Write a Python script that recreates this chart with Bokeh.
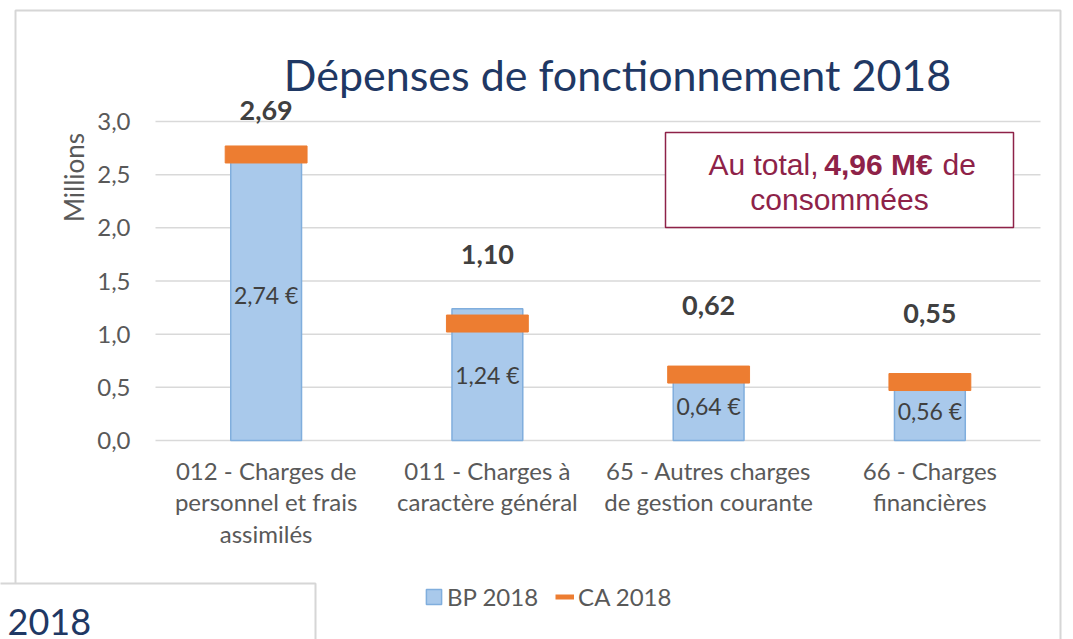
from bokeh.plotting import figure
from bokeh.models import (Range1d, Label, LabelSet, ColumnDataSource,
                          BoxAnnotation, Legend, LegendItem)
from bokeh.core.properties import value
from bokeh.embed import file_html
from bokeh.resources import INLINE
import math

# ---- data ----
categories = ["012 - Charges de\npersonnel et frais\nassimilés",
              "011 - Charges à\ncaractère général",
              "65 - Autres charges\nde gestion courante",
              "66 - Charges\nfinancières"]
bp_2018 = [2.74, 1.24, 0.64, 0.56]
ca_2018 = [2.69, 1.10, 0.62, 0.55]
y_ticks = [0.0, 0.5, 1.0, 1.5, 2.0, 2.5, 3.0]
y_tick_labels = ["0,0", "0,5", "1,0", "1,5", "2,0", "2,5", "3,0"]
series_names = ["BP 2018", "CA 2018"]
title_text = "Dépenses de fonctionnement 2018"
axis_title = "Millions"
total_text = ["Au total,", "4,96 M€", "de", "consommées"]
other_slide_text = "2018"

FONT = "Lato"
GRAY = "#595959"
DARK = "#404040"
NAVY = "#1f3864"
MAROON = "#8e2248"
W, H = 1073, 639

def fr(v):
    return f"{v:.2f}".replace(".", ",")

xs = [i + 0.5 for i in range(len(categories))]

# page pixel -> data helpers (used for layout placement only)
X0, XS = 155.0, 221.25
Y0, YS = 440.0, 106.33
def px(x):
    return (x - X0) / XS
def py(y):
    return (Y0 - y) / YS

p = figure(width=W, height=H, x_range=Range1d(px(0), px(W)), y_range=Range1d(py(H), py(0)),
           output_backend="svg", toolbar_location=None,
           x_axis_location=None, y_axis_location=None,
           min_border=0, min_border_left=0, min_border_right=0,
           min_border_top=0, min_border_bottom=0)
p.outline_line_color = None
p.background_fill_color = "white"
p.border_fill_color = "white"
p.grid.grid_line_color = None
p.grid.visible = False

# outer slide frame
p.add_layout(BoxAnnotation(left=px(15), right=px(1060), top=py(10), bottom=py(H + 60),
                           fill_alpha=0, line_color="#d6d6d6", line_alpha=1, line_width=2,
                           level="underlay"))

# gridlines and value-axis labels
grid_src = ColumnDataSource(dict(y=y_ticks, lbl=y_tick_labels))
p.segment(x0=px(155), x1=px(1040), y0="y", y1="y", source=grid_src,
          line_color="#d9d9d9", line_width=1.5)
p.text(x=px(130), y="y", text="lbl", source=grid_src, text_align="right",
       text_baseline="middle", text_font=value(FONT), text_font_size="24px",
       text_color=GRAY)

src = ColumnDataSource(dict(
    x=xs, cat=categories, bp=bp_2018, ca=ca_2018,
    bp_mid=[v / 2 for v in bp_2018],
    bp_lbl=[fr(v) + " €" for v in bp_2018],
    ca_lbl=[fr(v) for v in ca_2018],
    ca_lbl_y=[min(v + 0.645, 3.10) for v in ca_2018],
))

bars = p.vbar(x="x", top="bp", bottom=0, width=0.32, source=src,
              fill_color="#a9c9eb", line_color="#80aedd", line_width=1.5)
marks = p.rect(x="x", y="ca", width=0.37, height=17, height_units="screen", source=src,
               fill_color="#ed7d31", line_color="#ed7d31")
ca_line = p.line(x=[xs[0], xs[0]], y=[float("nan"), float("nan")],
                 line_color="#ed7d31", line_width=5)

# category axis labels
p.text(x="x", y=py(455), text="cat", source=src, text_align="center", text_baseline="top",
       text_font=value(FONT), text_font_size="24px", text_color=GRAY, text_line_height=1.09)

p.add_layout(LabelSet(x="x", y="bp_mid", text="bp_lbl", source=src, text_align="center",
                      text_baseline="middle", text_font=value(FONT), text_font_size="23px",
                      text_color=DARK))
p.add_layout(LabelSet(x="x", y="ca_lbl_y", text="ca_lbl", source=src, text_align="center",
                      text_baseline="middle", text_font=value(FONT), text_font_size="27px",
                      text_font_style="bold", text_color=DARK))

# title and axis title
p.add_layout(Label(x=px(617), y=py(74), text=title_text, text_align="center",
                   text_baseline="middle", text_font=FONT, text_font_size="43px",
                   text_color=NAVY))
p.add_layout(Label(x=px(73), y=py(177), text=axis_title, angle=math.pi / 2,
                   text_align="center", text_baseline="middle", text_font=FONT,
                   text_font_size="26px", text_color=GRAY))

# total box
p.add_layout(BoxAnnotation(left=px(665), right=px(1013), top=py(132), bottom=py(227),
                           fill_color="white", fill_alpha=1, line_color=MAROON,
                           line_alpha=1, line_width=1.5))
common = dict(text_font="Liberation Sans", text_font_size="30px", text_color=MAROON,
              text_baseline="middle")
p.add_layout(Label(x=px(818), y=py(164), text=total_text[0], text_align="right", **common))
p.add_layout(Label(x=px(878), y=py(164), text=total_text[1], text_align="center",
                   text_font_style="bold", **common))
p.add_layout(Label(x=px(942), y=py(164), text=total_text[2], text_align="left", **common))
p.add_layout(Label(x=px(839), y=py(199), text=total_text[3], text_align="center", **common))

# legend
legend = Legend(items=[LegendItem(label=series_names[0], renderers=[bars]),
                       LegendItem(label=series_names[1], renderers=[ca_line])],
                orientation="horizontal", location=(424, H - 611), padding=0, margin=0,
                spacing=17, glyph_width=19, glyph_height=19, label_height=24,
                label_standoff=4,
                label_text_font=FONT, label_text_font_size="24px", label_text_color=GRAY,
                border_line_color=None, background_fill_alpha=0)
p.add_layout(legend)

# neighbouring slide
p.add_layout(BoxAnnotation(left=px(-30), right=px(315), top=py(583), bottom=py(H + 60),
                           fill_color="white", fill_alpha=1, line_color="#d6d6d6",
                           line_alpha=1, line_width=2))
p.add_layout(Label(x=px(7), y=py(621), text=other_slide_text, text_align="left",
                   text_baseline="alphabetic", text_font=FONT, text_font_size="36px",
                   text_color=NAVY))

open("out.html", "w").write(file_html(p, INLINE))
